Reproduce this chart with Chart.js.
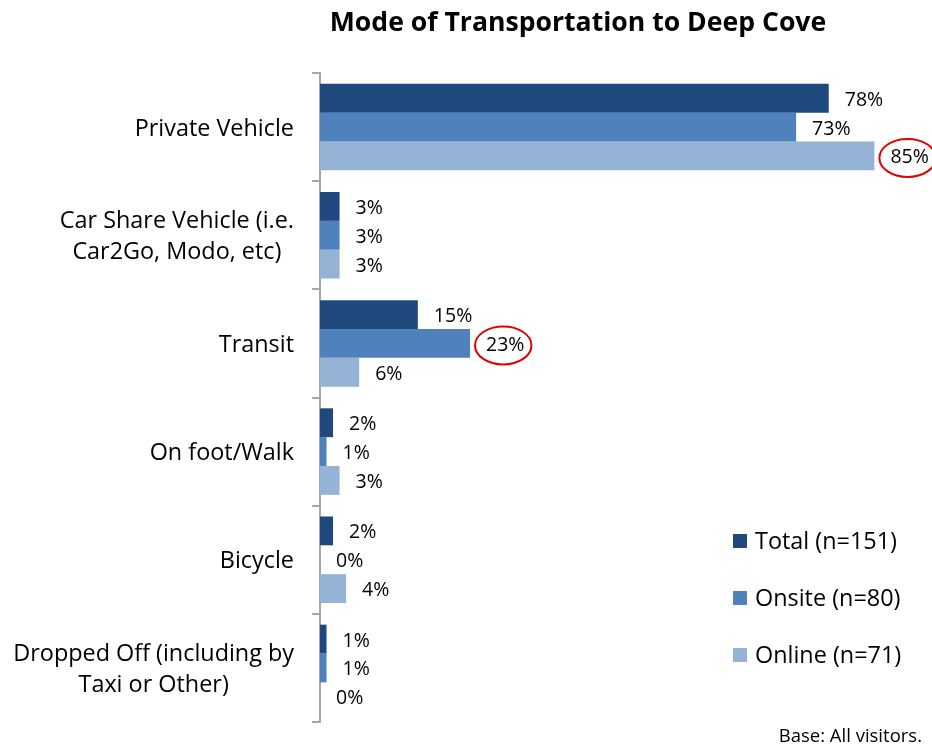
<!DOCTYPE html>
<html>
<head>
<meta charset="utf-8">
<title>Mode of Transportation to Deep Cove</title>
<script src="https://cdn.jsdelivr.net/npm/chart.js@4.4.1/dist/chart.umd.min.js"></script>
<style>
    body { margin: 0; background: white; }
    #grafico { display: block; }
</style>
</head>
<body>
<canvas id="grafico" width="932" height="746"></canvas>
<script>
const categorias = [
    'Private Vehicle',
    'Car Share Vehicle (i.e.\nCar2Go, Modo, etc)',
    'Transit',
    'On foot/Walk',
    'Bicycle',
    'Dropped Off (including by\nTaxi or Other)'
];

const total = [78, 3, 15, 2, 2, 1];
const onsite = [73, 3, 23, 1, 0, 1];
const online = [85, 3, 6, 3, 4, 0];

const series = ['Total (n=151)', 'Onsite (n=80)', 'Online (n=71)'];
const cores = ['#1f497d', '#4f81bd', '#95b3d7'];

// [serie, categoria] dos valores circulados em vermelho
const destaques = [[2, 0], [1, 2]];

const fonte = '"Open Sans", Lato, sans-serif';

const extras = {
    id: 'extras',
    afterDraw(chart) {
        const ctx = chart.ctx;
        const escala = chart.scales.y;
        ctx.save();

        // titulo
        ctx.fillStyle = '#000';
        ctx.font = 'bold 26.6px ' + fonte;
        ctx.textAlign = 'center';
        ctx.textBaseline = 'middle';
        ctx.fillText('Mode of Transportation to Deep Cove', 578, 23);

        // nomes das categorias
        ctx.font = '23.4px ' + fonte;
        categorias.forEach(function (cat, i) {
            const linhas = cat.split('\n');
            const y = escala.getPixelForTick(i) + 2;
            let largura = 0;
            linhas.forEach(function (l) {
                largura = Math.max(largura, ctx.measureText(l).width);
            });
            const cx = 294 - largura / 2;
            const alt = 31;
            linhas.forEach(function (l, k) {
                ctx.fillText(l, cx, y + (k - (linhas.length - 1) / 2) * alt);
            });
        });

        // valores nas barras
        ctx.font = '19.5px ' + fonte;
        ctx.textAlign = 'left';
        chart.data.datasets.forEach(function (ds, s) {
            const meta = chart.getDatasetMeta(s);
            meta.data.forEach(function (barra, i) {
                const texto = ds.data[i] + '%';
                ctx.fillText(texto, barra.x + 16, barra.y + 2);
            });
        });

        // circulos vermelhos
        ctx.strokeStyle = '#e00000';
        ctx.lineWidth = 2;
        destaques.forEach(function (d) {
            const barra = chart.getDatasetMeta(d[0]).data[d[1]];
            const texto = chart.data.datasets[d[0]].data[d[1]] + '%';
            const w = ctx.measureText(texto).width;
            ctx.beginPath();
            ctx.ellipse(barra.x + 14 + w / 2, barra.y + 2, w / 2 + 9, 19, 0, 0, Math.PI * 2);
            ctx.stroke();
        });

        // legenda
        ctx.font = '23.4px ' + fonte;
        series.forEach(function (nome, s) {
            const y = 541 + s * 57;
            ctx.fillStyle = cores[s];
            ctx.fillRect(733, y - 7, 14, 14);
            ctx.fillStyle = '#000';
            ctx.fillText(nome, 755, y + 1);
        });

        // base
        ctx.font = '18.5px ' + fonte;
        ctx.textAlign = 'right';
        ctx.fillText('Base: All visitors.', 922, 737);

        ctx.restore();
    }
};

const data = {
    labels: categorias,
    datasets: [
        { label: series[0], data: total, backgroundColor: cores[0] },
        { label: series[1], data: onsite, backgroundColor: cores[1] },
        { label: series[2], data: online, backgroundColor: cores[2] }
    ]
};

const config = {
    type: 'bar',
    data: data,
    options: {
        indexAxis: 'y',
        responsive: false,
        animation: false,
        categoryPercentage: 0.8,
        barPercentage: 1,
        layout: { padding: { top: 73, right: 25, bottom: 24, left: 0 } },
        scales: {
            x: { display: false, min: 0, max: 90 },
            y: {
                afterFit: function (s) { s.width = 320; },
                grid: { drawOnChartArea: false, tickLength: 8, color: '#a6a6a6', lineWidth: 2 },
                border: { color: '#a6a6a6', width: 2 },
                ticks: { display: false }
            }
        },
        plugins: {
            legend: { display: false },
            tooltip: { enabled: false }
        }
    },
    plugins: [extras]
};

const myChart = new Chart(document.getElementById('grafico'), config);
</script>
</body>
</html>
